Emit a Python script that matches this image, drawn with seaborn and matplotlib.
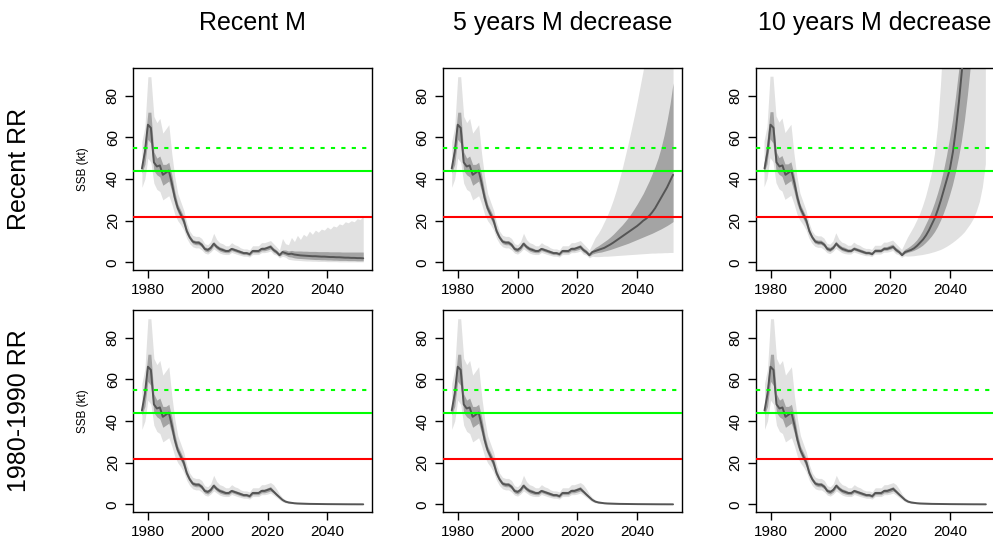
import numpy as np
import pandas as pd
import matplotlib
matplotlib.use("Agg")
import matplotlib.pyplot as plt
import seaborn as sns

# ---------- data ----------
years_hist = list(range(1978, 2022))
years_proj = list(range(2022, 2053))

# shared historical part (1978-2021)
hist_med = [45, 53, 66, 64.5, 48, 46, 46.5, 42, 43, 44,
            38, 31, 26, 23, 20, 15, 12, 10, 9.5, 9.5,
            8.5, 6.5, 6, 7, 9, 7.5, 6.5, 6, 5.5, 5.5,
            6.5, 6, 5.5, 5, 4.5, 4.5, 4, 5.5, 5.5, 5.5,
            6.5, 6.5, 7, 7.5]
hist_in_lo = [43, 47, 59, 57, 44, 42, 41, 37, 38, 39,
              34, 28, 24, 21, 18, 13.5, 11, 9, 8.5, 8.5,
              7.5, 5.5, 5, 6, 8, 6.5, 5.5, 5, 4.7, 4.7,
              5.7, 5.2, 4.7, 4.2, 3.8, 3.8, 3.3, 4.7, 4.7, 4.7,
              5.6, 5.6, 6, 6.5]
hist_in_hi = [47, 58, 72, 72, 53, 50, 51, 47, 47, 48,
              42, 34, 28, 25, 22, 16.5, 13, 11, 10.5, 10.5,
              9.5, 7.5, 7, 8, 10, 8.5, 7.5, 7, 6.3, 6.3,
              7.3, 6.8, 6.3, 5.8, 5.2, 5.2, 4.7, 6.3, 6.3, 6.3,
              7.4, 7.4, 8, 8.6]
hist_out_lo = [36, 40, 50, 48, 38, 35, 34, 30, 31, 32,
               28, 23, 20, 18, 15.5, 11.5, 9, 7.5, 7, 7,
               6, 4.5, 4, 5, 6.5, 5.5, 4.5, 4, 3.8, 3.8,
               4.8, 4.3, 3.8, 3.4, 3, 3, 2.6, 3.8, 3.8, 3.8,
               4.7, 4.7, 5, 5.5]
hist_out_hi = [58, 65, 89, 89, 70, 67, 69, 62, 64, 66,
               52, 41, 33, 29, 25, 19, 15, 13, 12.5, 12.5,
               11.5, 9, 8.5, 10, 14, 11, 9.5, 9, 8, 8,
               9.5, 8.5, 8, 7, 6.5, 6.5, 6, 8, 8, 8,
               9.5, 9.5, 10, 10.5]

# projections 2022-2052, Recent RR / Recent M
rr_m_med = [6, 5, 3.5, 5, 4.5, 4, 4.2, 3.8, 3.6, 3.4, 3.3, 3.2, 3.1, 3, 3, 2.9,
            2.8, 2.8, 2.7, 2.6, 2.6, 2.5, 2.5, 2.4, 2.3, 2.3, 2.2, 2.2, 2.1, 2.1, 2.0]
rr_m_in_lo = [5, 4.2, 3, 4, 3.5, 2.8, 2.6, 2.2, 2, 1.9, 1.8, 1.7, 1.6, 1.5, 1.4, 1.4,
              1.3, 1.3, 1.2, 1.2, 1.1, 1.1, 1.0, 1.0, 1.0, 0.9, 0.9, 0.9, 0.8, 0.8, 0.8]
rr_m_in_hi = [7, 6, 4.5, 6, 6, 5.5, 5.8, 5.5, 5.5, 5.5, 5.4, 5.4, 5.3, 5.3, 5.3, 5.2,
              5.2, 5.2, 5.2, 5.1, 5.1, 5.1, 5.1, 5.0, 5.0, 5.0, 5.0, 5.0, 5.0, 5.0, 5.0]
rr_m_out_lo = [4, 3.5, 2.2, 3, 2.5, 1.5, 1.3, 1.1, 1, 0.9, 0.8, 0.7, 0.7, 0.6, 0.6, 0.5,
               0.5, 0.5, 0.4, 0.4, 0.4, 0.4, 0.3, 0.3, 0.3, 0.3, 0.3, 0.3, 0.3, 0.3, 0.3]
rr_m_out_hi = [9, 7.5, 6, 11.5, 9, 8.5, 12, 10, 13, 11, 13.5, 12.5, 15, 13.5, 15.5, 14.5,
               16, 15.5, 17, 16, 17.5, 17, 18.5, 18, 19.5, 19, 20, 19.5, 21, 20.5, 22.5]

# Recent RR / 5 years M decrease
rr_m5_med = [6, 5, 3.5, 5, 5.5, 6, 6.5, 7, 7.8, 8.6, 9.5, 10.5, 11.5, 12.5, 13.5, 14.5,
             15.5, 16.5, 17.5, 18.7, 20, 21, 22.3, 24, 26, 28.5, 31, 33.5, 36, 39, 42]
rr_m5_in_lo = [5, 4.2, 3, 4, 4.5, 4.8, 5, 5.4, 5.8, 6.2, 6.7, 7.2, 7.7, 8.2, 8.7, 9.2,
               9.8, 10.4, 11, 11.6, 12.2, 12.8, 13.4, 14, 14.7, 15.4, 16.1, 16.9, 17.7, 18.6, 19.6]
rr_m5_in_hi = [7, 6, 4.5, 6, 7.2, 8, 9, 10, 11, 12.2, 13.5, 15, 16.5, 18, 19.7, 21.5,
               23.5, 25.7, 28, 30.5, 33, 36, 39, 42.5, 46, 50, 55, 61, 68, 76, 86]
rr_m5_out_lo = [4, 3.5, 2.2, 3, 2.8, 2.8, 2.9, 3, 3, 3.1, 3.2, 3.3, 3.4, 3.5, 3.6, 3.7,
                3.8, 3.9, 4, 4.1, 4.2, 4.3, 4.4, 4.5, 4.5, 4.6, 4.6, 4.7, 4.7, 4.8, 4.8]
rr_m5_out_hi = [9, 7.5, 6, 9, 12, 14, 16.5, 19.5, 22.5, 26, 30, 34.5, 39.5, 45, 51, 57,
                63.5, 70, 77, 84.5, 92, 100, 110, 120, 130, 140, 150, 160, 170, 180, 190]

# Recent RR / 10 years M decrease
rr_m10_med = [6, 5, 3.5, 5, 5.5, 6, 6.8, 8, 9.5, 11, 13, 15.5, 18.5, 21.5, 25.5, 30,
              35, 40, 45, 53, 64, 77, 92, 110, 130, 155, 185, 220, 260, 305, 360]
rr_m10_in_lo = [5, 4.2, 3, 4, 4.6, 5, 5.5, 6.2, 7, 8, 9.3, 10.8, 12.5, 14.5, 17, 20,
                23.5, 27.5, 32, 37, 43, 50, 58, 68, 80, 94, 110, 128, 150, 175, 205]
rr_m10_in_hi = [7, 6, 4.5, 6, 6.8, 7.8, 9, 10.5, 12.5, 15, 18, 21, 24.5, 28.5, 33, 38,
                44, 51, 59, 68, 79, 91, 105, 125, 150, 180, 215, 260, 310, 370, 440]
rr_m10_out_lo = [4, 3.5, 2.2, 3, 2.8, 2.9, 3, 3.2, 3.4, 3.6, 3.9, 4.2, 4.6, 5, 5.5, 6,
                 6.7, 7.5, 8.4, 9.4, 10.5, 11.7, 13, 14.5, 16.5, 18.5, 21, 24.5, 29, 36, 47]
rr_m10_out_hi = [9, 7.5, 6, 9, 12, 14.5, 17, 20, 23, 27, 31.5, 37, 43, 52, 65, 85,
                 110, 140, 180, 225, 280, 350, 430, 520, 630, 760, 900, 1060, 1250, 1450, 1700]

# 1980-1990 RR (same look for all M scenarios)
old_med = [6.2, 4.8, 3.5, 2.2, 1.4, 1.0, 0.8, 0.6, 0.5, 0.45, 0.4, 0.35, 0.3, 0.28, 0.26, 0.24,
           0.22, 0.2, 0.18, 0.17, 0.16, 0.15, 0.14, 0.13, 0.12, 0.11, 0.1, 0.1, 0.09, 0.09, 0.08]
old_in_lo = [5.5, 4.2, 3.0, 1.8, 1.1, 0.8, 0.6, 0.45, 0.38, 0.33, 0.3, 0.26, 0.22, 0.2, 0.19, 0.17,
             0.16, 0.14, 0.13, 0.12, 0.11, 0.1, 0.1, 0.09, 0.08, 0.08, 0.07, 0.07, 0.06, 0.06, 0.05]
old_in_hi = [7, 5.5, 4.0, 2.6, 1.7, 1.2, 1.0, 0.8, 0.65, 0.58, 0.52, 0.46, 0.4, 0.37, 0.34, 0.32,
             0.3, 0.27, 0.25, 0.24, 0.22, 0.21, 0.2, 0.18, 0.17, 0.16, 0.15, 0.14, 0.13, 0.13, 0.12]
old_out_lo = [4.5, 3.4, 2.3, 1.3, 0.8, 0.5, 0.4, 0.3, 0.25, 0.2, 0.18, 0.15, 0.13, 0.11, 0.1, 0.09,
              0.08, 0.07, 0.06, 0.06, 0.05, 0.05, 0.04, 0.04, 0.04, 0.03, 0.03, 0.03, 0.03, 0.02, 0.02]
old_out_hi = [9.5, 7.5, 5.0, 3.3, 2.2, 1.6, 1.3, 1.1, 0.95, 0.85, 0.78, 0.7, 0.65, 0.6, 0.56, 0.53,
              0.5, 0.48, 0.46, 0.44, 0.42, 0.4, 0.39, 0.38, 0.37, 0.36, 0.35, 0.34, 0.33, 0.32, 0.31]

col_titles = ["Recent M", "5 years M decrease", "10 years M decrease"]
row_titles = ["Recent RR", "1980-1990 RR"]
blim, bpa, bmsy = 22, 44, 55

proj = [
    [(rr_m_med, rr_m_in_lo, rr_m_in_hi, rr_m_out_lo, rr_m_out_hi),
     (rr_m5_med, rr_m5_in_lo, rr_m5_in_hi, rr_m5_out_lo, rr_m5_out_hi),
     (rr_m10_med, rr_m10_in_lo, rr_m10_in_hi, rr_m10_out_lo, rr_m10_out_hi)],
    [(old_med, old_in_lo, old_in_hi, old_out_lo, old_out_hi)] * 3,
]
hist = (hist_med, hist_in_lo, hist_in_hi, hist_out_lo, hist_out_hi)

# ---------- plot ----------
sns.set_theme(style="ticks")
plt.rcParams["font.family"] = ["Liberation Sans", "DejaVu Sans"]
plt.rcParams["text.color"] = "black"
plt.rcParams["axes.labelcolor"] = "black"
plt.rcParams["xtick.color"] = "black"
plt.rcParams["ytick.color"] = "black"

fig = plt.figure(figsize=(9.93, 5.44), dpi=100)
lefts = [0.134, 0.446, 0.761]
bottoms = [0.5037, 0.0588]
w, h = 0.2407, 0.371

years = years_hist + years_proj
for r in range(2):
    for c in range(3):
        ax = fig.add_axes([lefts[c], bottoms[r], w, h])
        med, ilo, ihi, olo, ohi = [hist[k] + list(proj[r][c][k]) for k in range(5)]
        df = pd.DataFrame({"year": years, "ssb": med})
        ax.fill_between(years, olo, ohi, color="#e1e1e1", lw=0, zorder=1)
        ax.fill_between(years, ilo, ihi, color="#a4a4a4", lw=0, zorder=2)
        sns.lineplot(data=df, x="year", y="ssb", ax=ax, color="#555555", lw=1.4, zorder=3)
        ax.axhline(blim, color="#ff0000", lw=1.5, zorder=4)
        ax.axhline(bpa, color="#00ff00", lw=1.5, zorder=4)
        ax.axhline(bmsy, color="#00ff00", lw=1.5, ls=(0, (2, 3)), zorder=4)
        ax.set_xlim(1975.04, 2054.96)
        ax.set_ylim(-3.6, 93.1)
        ax.set_xticks([1980, 2000, 2020, 2040])
        ax.set_yticks([0, 20, 40, 60, 80])
        ax.tick_params(direction="out", length=6, width=1, labelsize=11,
                       color="black", labelcolor="black")
        ax.tick_params(axis="y", labelrotation=90)
        for lab in ax.get_yticklabels():
            lab.set_va("center")
        for s in ax.spines.values():
            s.set_visible(True)
            s.set_color("black")
            s.set_linewidth(1)
        ax.set_xlabel("")
        if c == 0:
            ax.set_ylabel("SSB (kt)", fontsize=8.5, labelpad=12, color="black")
        else:
            ax.set_ylabel("")

for c, t in enumerate(col_titles):
    fig.text(lefts[c] + w / 2, 0.958, t, ha="center", va="center", fontsize=18, color="black")
for r, t in enumerate(row_titles):
    fig.text(0.019, bottoms[r] + h / 2, t, ha="center", va="center", rotation=90,
             fontsize=18, color="black")

fig.savefig("out.png", dpi=100)
